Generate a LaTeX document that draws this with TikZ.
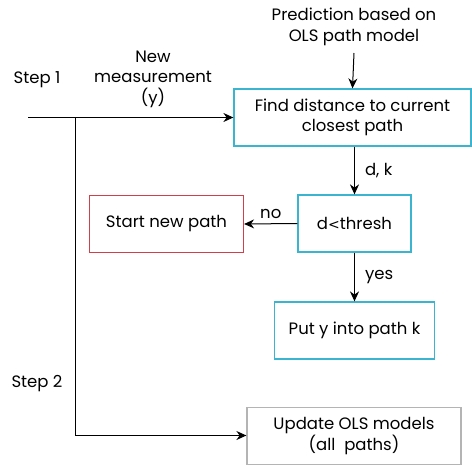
\documentclass[tikz,border=0pt]{standalone}
\usepackage{fontspec}
\setmainfont{Poppins}
\newfontfamily\symf{DejaVu Sans}
\usetikzlibrary{arrows.meta}
\definecolor{cy}{HTML}{3BB4D0}
\definecolor{rd}{HTML}{D0404A}
\definecolor{gr}{HTML}{B4B4B4}
\tikzset{
  box/.style={draw, line width=1.2pt, inner sep=0pt, align=center, font=\fontsize{16.5}{20.5}\selectfont},
  lbl/.style={align=center, inner sep=0pt, font=\fontsize{16.5}{20.5}\selectfont},
  conn/.style={line width=1pt, -{Stealth[length=10pt,width=9pt]}},
  ln/.style={line width=1pt}
}
\begin{document}
\begin{tikzpicture}[x=1pt,y=-1pt]
\useasboundingbox (0,0) rectangle (472,466);
\node[box, draw=cy, minimum width=237pt, minimum height=57pt] (find) at (352.5,117.5) {Find distance to current\\closest path};
\node[box, draw=cy, minimum width=113pt, minimum height=57pt] (thr) at (354.5,223.5) {d{\symf\fontsize{14}{16}\selectfont<}thresh};
\node[box, draw=rd, minimum width=154pt, minimum height=57pt] (start) at (166.5,224) {Start new path};
\node[box, draw=cy, minimum width=160pt, minimum height=57pt] (put) at (354.5,330.5) {Put y into path k};
\node[box, draw=gr, minimum width=214pt, minimum height=57pt] (upd) at (354,436) {Update OLS models\\(all~~paths)};
\node[lbl] (pred) at (354,27) {Prediction based on\\OLS path model};
\node[lbl] (newm) at (153,79) {New\\measurement\\(y)};
\node[lbl] (s1) at (37,80) {Step 1};
\node[lbl] (s2) at (37,384) {Step 2};
\coordinate (a0) at (28,117.5);
\coordinate (j1) at (75.5,117.5);
\coordinate (j2) at (75.5,435.5);
\coordinate (pt) at (354,53);
\draw[conn] (pt) -- (find.north);
\draw[conn] (a0) -- (find.west |- a0);
\draw[ln] (j1) -- (j2);
\draw[conn] (j2) -- (upd.west |- j2);
\draw[conn] (find.south -| thr.north) -- node[right, lbl, xshift=10pt] {d, k} (thr.north);
\draw[conn] (thr.west) -- node[above, lbl, yshift=5pt] {no} (start.east);
\draw[conn] (thr.south) -- node[right, lbl, xshift=10pt] {yes} (put.north);
\end{tikzpicture}
\end{document}
